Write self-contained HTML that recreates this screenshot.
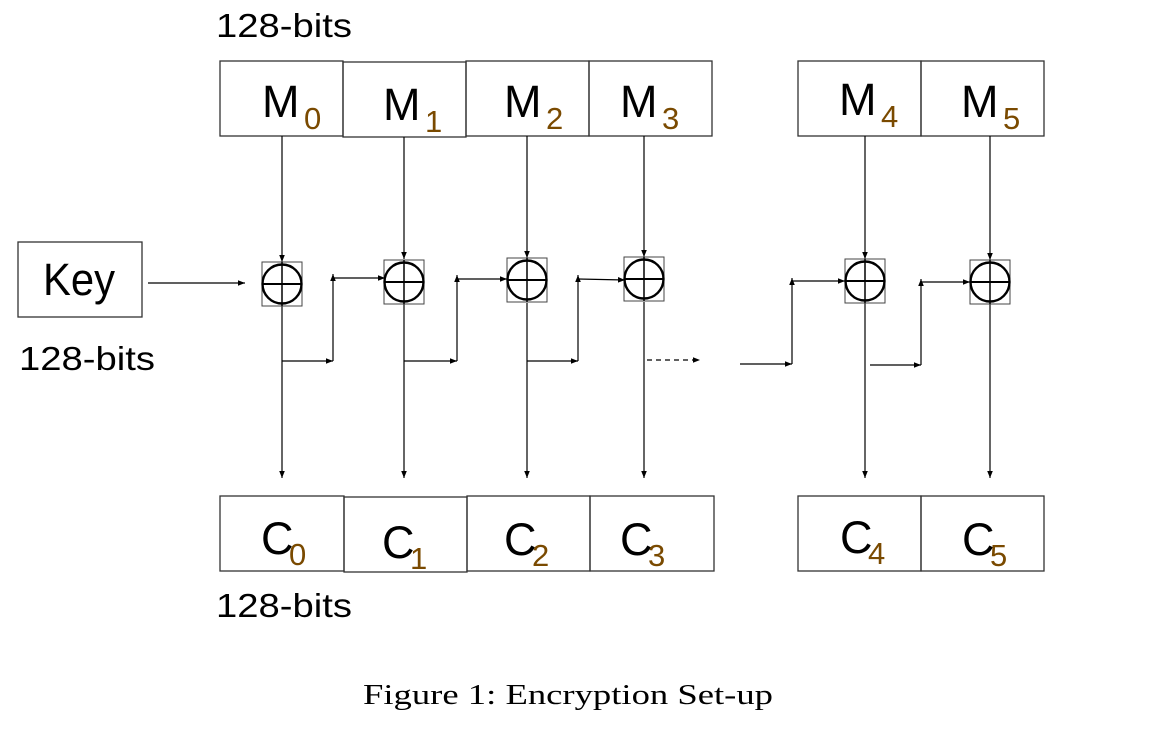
<!DOCTYPE html>
<html><head><meta charset="utf-8"><style>
html,body{margin:0;padding:0;background:#fff;}
svg{display:block;}
.lbl{font-family:"Liberation Sans",sans-serif;font-size:45px;fill:#000;}
.sub{font-family:"Liberation Sans",sans-serif;font-size:31px;fill:#7a4a00;}
.bits{font-family:"Liberation Sans",sans-serif;font-size:33px;fill:#000;}
</style></head><body>
<svg width="1156" height="736" viewBox="0 0 1156 736" xmlns="http://www.w3.org/2000/svg">
<defs>
<marker id="a" viewBox="0 0 10 10" refX="10" refY="5" markerWidth="7" markerHeight="7" orient="auto" markerUnits="userSpaceOnUse"><path d="M0,1 L10,5 L0,9z" fill="#000"/></marker>
</defs>
<g fill="none" stroke="#333" stroke-width="1.3">
<rect x="220" y="61" width="123" height="75"/>
<rect x="343" y="62" width="123" height="75"/>
<rect x="466" y="61" width="123" height="75"/>
<rect x="589" y="61" width="123" height="75"/>
<rect x="798" y="61" width="123" height="75"/>
<rect x="921" y="61" width="123" height="75"/>
<rect x="220" y="496" width="124" height="75"/>
<rect x="344" y="497" width="123" height="75"/>
<rect x="467" y="496" width="123" height="75"/>
<rect x="590" y="496" width="124" height="75"/>
<rect x="798" y="496" width="123" height="75"/>
<rect x="921" y="496" width="123" height="75"/>
<rect x="18" y="242" width="124" height="75"/>
</g>
<text class="bits" x="216" y="37" textLength="136" lengthAdjust="spacingAndGlyphs">128-bits</text>
<text class="bits" x="19" y="370" textLength="136" lengthAdjust="spacingAndGlyphs">128-bits</text>
<text class="bits" x="216" y="617" textLength="136" lengthAdjust="spacingAndGlyphs">128-bits</text>
<text class="lbl" x="43" y="295" textLength="72" lengthAdjust="spacingAndGlyphs">Key</text>
<text class="lbl" x="262" y="117">M</text><text class="sub" x="304" y="129">0</text>
<text class="lbl" x="383" y="120">M</text><text class="sub" x="425" y="132">1</text>
<text class="lbl" x="504" y="117">M</text><text class="sub" x="546" y="129">2</text>
<text class="lbl" x="620" y="117">M</text><text class="sub" x="662" y="129">3</text>
<text class="lbl" x="839" y="115">M</text><text class="sub" x="881" y="127">4</text>
<text class="lbl" x="961" y="117">M</text><text class="sub" x="1003" y="129">5</text>
<text class="lbl" x="261" y="554">C</text><text class="sub" x="289" y="565">0</text>
<text class="lbl" x="382" y="558">C</text><text class="sub" x="410" y="569">1</text>
<text class="lbl" x="504" y="555">C</text><text class="sub" x="532" y="566">2</text>
<text class="lbl" x="620" y="555">C</text><text class="sub" x="648" y="566">3</text>
<text class="lbl" x="840" y="553">C</text><text class="sub" x="868" y="564">4</text>
<text class="lbl" x="962" y="555">C</text><text class="sub" x="990" y="566">5</text>
<g stroke="#000" stroke-width="1.2" fill="none">
<line x1="148" y1="283" x2="245" y2="283" marker-end="url(#a)"/>
<line x1="282" y1="136" x2="282" y2="262" marker-end="url(#a)"/>
<line x1="404" y1="137" x2="404" y2="259" marker-end="url(#a)"/>
<line x1="527" y1="136" x2="527" y2="258" marker-end="url(#a)"/>
<line x1="644" y1="136" x2="644" y2="257" marker-end="url(#a)"/>
<line x1="865" y1="136" x2="865" y2="259" marker-end="url(#a)"/>
<line x1="990" y1="136" x2="990" y2="260" marker-end="url(#a)"/>
<line x1="282" y1="306" x2="282" y2="478" marker-end="url(#a)"/>
<line x1="404" y1="304" x2="404" y2="478" marker-end="url(#a)"/>
<line x1="527" y1="303" x2="527" y2="478" marker-end="url(#a)"/>
<line x1="644" y1="302" x2="644" y2="478" marker-end="url(#a)"/>
<line x1="865" y1="303" x2="865" y2="478" marker-end="url(#a)"/>
<line x1="990" y1="304" x2="990" y2="478" marker-end="url(#a)"/>
<line x1="282" y1="361" x2="333" y2="361" marker-end="url(#a)"/>
<line x1="333" y1="361" x2="333" y2="274" marker-end="url(#a)"/>
<line x1="333" y1="278" x2="385" y2="278" marker-end="url(#a)"/>
<line x1="404" y1="361" x2="457" y2="361" marker-end="url(#a)"/>
<line x1="457" y1="361" x2="457" y2="275" marker-end="url(#a)"/>
<line x1="457" y1="279" x2="507" y2="279" marker-end="url(#a)"/>
<line x1="527" y1="361" x2="578" y2="361" marker-end="url(#a)"/>
<line x1="578" y1="361" x2="578" y2="275" marker-end="url(#a)"/>
<line x1="578" y1="279" x2="625" y2="280" marker-end="url(#a)"/>
<line x1="647" y1="360" x2="700" y2="360" stroke-dasharray="5,4" marker-end="url(#a)"/>
<line x1="740" y1="364" x2="792" y2="364" marker-end="url(#a)"/>
<line x1="792" y1="364" x2="792" y2="278" marker-end="url(#a)"/>
<line x1="792" y1="281" x2="845" y2="281" marker-end="url(#a)"/>
<line x1="870" y1="365" x2="921" y2="365" marker-end="url(#a)"/>
<line x1="921" y1="365" x2="921" y2="279" marker-end="url(#a)"/>
<line x1="921" y1="282" x2="970" y2="282" marker-end="url(#a)"/>
</g>
<g fill="none">
<g transform="translate(282,284)"><rect x="-20" y="-22" width="40" height="44" stroke="#444" stroke-width="1"/><circle r="19.5" stroke="#000" stroke-width="2.4"/><line x1="-20" y1="0" x2="20" y2="0" stroke="#000" stroke-width="2"/><line x1="0" y1="-22" x2="0" y2="22" stroke="#000" stroke-width="1.5"/></g>
<g transform="translate(404,282)"><rect x="-20" y="-22" width="40" height="44" stroke="#444" stroke-width="1"/><circle r="19.5" stroke="#000" stroke-width="2.4"/><line x1="-20" y1="0" x2="20" y2="0" stroke="#000" stroke-width="2"/><line x1="0" y1="-22" x2="0" y2="22" stroke="#000" stroke-width="1.5"/></g>
<g transform="translate(527,280)"><rect x="-20" y="-22" width="40" height="44" stroke="#444" stroke-width="1"/><circle r="19.5" stroke="#000" stroke-width="2.4"/><line x1="-20" y1="0" x2="20" y2="0" stroke="#000" stroke-width="2"/><line x1="0" y1="-22" x2="0" y2="22" stroke="#000" stroke-width="1.5"/></g>
<g transform="translate(644,279)"><rect x="-20" y="-22" width="40" height="44" stroke="#444" stroke-width="1"/><circle r="19.5" stroke="#000" stroke-width="2.4"/><line x1="-20" y1="0" x2="20" y2="0" stroke="#000" stroke-width="2"/><line x1="0" y1="-22" x2="0" y2="22" stroke="#000" stroke-width="1.5"/></g>
<g transform="translate(865,281)"><rect x="-20" y="-22" width="40" height="44" stroke="#444" stroke-width="1"/><circle r="19.5" stroke="#000" stroke-width="2.4"/><line x1="-20" y1="0" x2="20" y2="0" stroke="#000" stroke-width="2"/><line x1="0" y1="-22" x2="0" y2="22" stroke="#000" stroke-width="1.5"/></g>
<g transform="translate(990,282)"><rect x="-20" y="-22" width="40" height="44" stroke="#444" stroke-width="1"/><circle r="19.5" stroke="#000" stroke-width="2.4"/><line x1="-20" y1="0" x2="20" y2="0" stroke="#000" stroke-width="2"/><line x1="0" y1="-22" x2="0" y2="22" stroke="#000" stroke-width="1.5"/></g>
</g>
<text x="568" y="704" text-anchor="middle" font-family="Liberation Serif, serif" font-size="28" fill="#000" textLength="410" lengthAdjust="spacingAndGlyphs">Figure 1: Encryption Set-up</text>
</svg>
</body></html>
